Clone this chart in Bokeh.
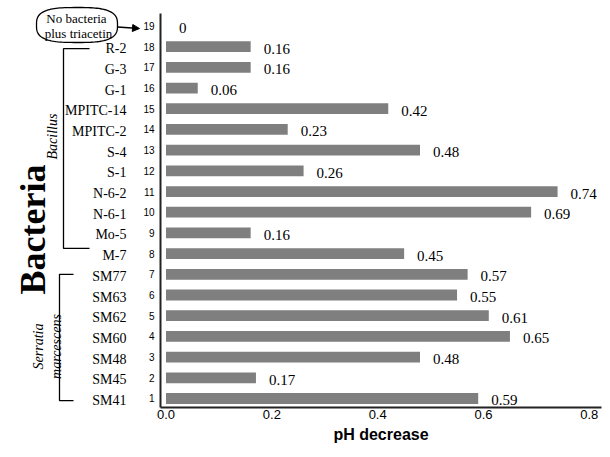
import math
import numpy as np
from bokeh.plotting import figure
from bokeh.layouts import row
from bokeh.models import FixedTicker, Arrow, NormalHead, Range1d, ColumnDataSource
from bokeh.core.properties import value
from bokeh.embed import file_html
from bokeh.resources import INLINE

# ---- data ----
rows = list(range(1, 20))
names = ["SM41", "SM45", "SM48", "SM60", "SM62", "SM63", "SM77",
         "M-7", "Mo-5", "N-6-1", "N-6-2", "S-1", "S-4", "MPITC-2", "MPITC-14",
         "G-1", "G-3", "R-2", ""]
values = [0.59, 0.17, 0.48, 0.65, 0.61, 0.55, 0.57,
          0.45, 0.16, 0.69, 0.74, 0.26, 0.48, 0.23, 0.42,
          0.06, 0.16, 0.16, 0.0]
value_labels = ["0.59", "0.17", "0.48", "0.65", "0.61", "0.55", "0.57",
                "0.45", "0.16", "0.69", "0.74", "0.26", "0.48", "0.23", "0.42",
                "0.06", "0.16", "0.16", "0"]
x_ticks = [0.0, 0.2, 0.4, 0.6, 0.8]
x_tick_labels = ["0.0", "0.2", "0.4", "0.6", "0.8"]
bacillus_rows = (8, 18)
serratia_rows = (1, 7)
control_row = 19
control_lines = ["No bacteria", "plus triacetin"]

SERIF = "Times New Roman"
SANS = "Liberation Sans"

FRAME_H = 394
TOP = 13
Y0, Y1 = 0.565, 19.6
UNIT = (Y1 - Y0) / FRAME_H  # data units per pixel (vertical)
YTOP = Y1 + TOP * UNIT      # data value at the canvas top

src = ColumnDataSource(dict(y=rows, v=values, lab=value_labels))
yr = Range1d(Y0, YTOP)

# ---------------- main chart ----------------
p = figure(frame_width=441, frame_height=FRAME_H + TOP, output_backend="svg", toolbar_location=None,
           x_range=Range1d(-0.0104, 0.823), y_range=yr,
           min_border_left=19, min_border_right=4, min_border_top=0, min_border_bottom=0)
p.outline_line_color = None
p.xgrid.visible = False
p.ygrid.visible = False

p.hbar(y="y", right="v", left=0, height=0.52, source=src,
       fill_color="#7f7f7f", line_color=None)
p.text(x="v", y="y", text="lab", source=src, x_offset=13, y_offset=2,
       text_font=value(SERIF), text_font_size="15px", text_color="black",
       text_baseline="middle", text_align="left")

xa = p.xaxis[0]
xa.ticker = FixedTicker(ticks=x_ticks)
xa.major_label_overrides = {t: l for t, l in zip(x_ticks, x_tick_labels)}
xa.major_tick_line_color = None
xa.minor_tick_line_color = None
xa.major_tick_out = 0
xa.major_tick_in = 0
xa.major_label_standoff = 2
xa.major_label_text_font = SANS
xa.major_label_text_font_size = "13px"
xa.major_label_text_color = "black"
xa.axis_line_color = "#222222"
xa.axis_line_width = 2
xa.axis_label = "pH decrease"
xa.axis_label_text_font = SANS
xa.axis_label_text_font_style = "bold"
xa.axis_label_text_font_size = "16px"
xa.axis_label_text_color = "black"
xa.axis_label_standoff = 4

ya = p.yaxis[0]
ya.ticker = FixedTicker(ticks=rows)
ya.bounds = (Y0, Y1)
ya.major_tick_line_color = None
ya.minor_tick_line_color = None
ya.major_tick_out = 0
ya.major_tick_in = 0
ya.major_label_standoff = 6
ya.major_label_text_font = SANS
ya.major_label_text_font_size = "10px"
ya.major_label_text_color = "black"
ya.axis_line_color = "#222222"
ya.axis_line_width = 2

# ---------------- left label panel (x in canvas pixels) ----------------
L0, L1 = 0, 140
q = figure(frame_width=L1 - L0, frame_height=FRAME_H + TOP, output_backend="svg", toolbar_location=None,
           x_range=Range1d(L0, L1), y_range=yr,
           x_axis_location=None, y_axis_location=None,
           min_border_left=0, min_border_right=0, min_border_top=0, min_border_bottom=0)
q.outline_line_color = None
q.xgrid.visible = False
q.ygrid.visible = False

def yd(py):
    # canvas pixel row -> data y
    return YTOP - py * UNIT

name_rows = [r for r, n in zip(rows, names) if n]
name_txt = [n for n in names if n]
q.text(x=126, y=name_rows, text=name_txt, y_offset=2,
       text_font=value(SERIF), text_font_size="14px", text_color="black",
       text_align="right", text_baseline="middle")

q.text(x=[32], y=[yd(229)], text=["Bacteria"], angle=math.pi / 2,
       text_font=value(SERIF), text_font_style="bold", text_font_size="36px",
       text_color="black", text_align="center", text_baseline="middle")

def bracket(x_v, x_h, r_top, r_bot):
    q.multi_line(xs=[[x_h, x_v, x_v, x_h]], ys=[[r_top, r_top, r_bot, r_bot]],
                 line_color="black", line_width=1.3)

bracket(63, 89, bacillus_rows[1] - 0.1, bacillus_rows[0] + 0.25)
bracket(59, 73, serratia_rows[1], serratia_rows[0] - 0.1)

q.text(x=[52], y=[yd(136)], text=["Bacillus"], angle=math.pi / 2,
       text_font=value(SERIF), text_font_style="italic", text_font_size="14px",
       text_color="black", text_align="center", text_baseline="middle")
q.text(x=[47], y=[yd(346)], text=["Serratia\nmarcescens"], angle=math.pi / 2,
       text_font=value(SERIF), text_font_style="italic", text_font_size="14px",
       text_color="black", text_align="center", text_baseline="middle")

# rounded (superellipse) outline around the control label
t = np.linspace(0, 2 * np.pi, 120)
n_exp = 3.0
cx, cy, a, b = 76.5, 24.5, 40.5, 17.5
ox = cx + a * np.sign(np.cos(t)) * np.abs(np.cos(t)) ** (2 / n_exp)
oy = cy + b * np.sign(np.sin(t)) * np.abs(np.sin(t)) ** (2 / n_exp)
q.patch(x=ox, y=[yd(v) for v in oy], fill_color="white", line_color="black", line_width=1.3)
q.text(x=[76, 78], y=[yd(18), yd(33)], text=control_lines,
       text_font=value(SERIF), text_font_size="13px", text_color="black",
       text_align="center", text_baseline="middle")
q.add_layout(Arrow(x_start=117, y_start=yd(26.5), x_end=139, y_end=yd(28),
                   end=NormalHead(size=7, fill_color="black", line_color="black"),
                   line_color="black", line_width=1.5))

layout = row(q, p, spacing=0)
open("out.html", "w").write(file_html(layout, INLINE))
